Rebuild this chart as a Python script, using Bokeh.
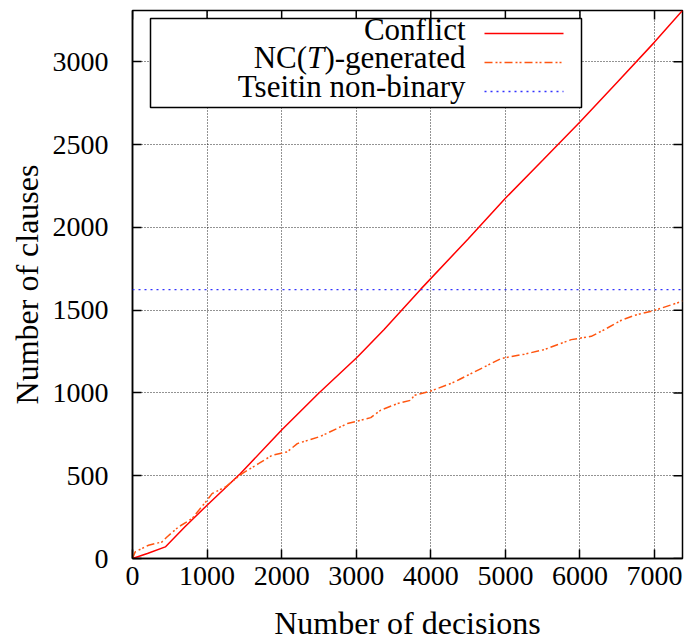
from bokeh.plotting import figure
from bokeh.models import (Range1d, FixedTicker, Span, BoxAnnotation, Label, Arrow)
from bokeh.embed import file_html
from bokeh.resources import INLINE

# ---- data ----
conflict_x = [0, 200, 440, 700, 1000, 1448, 1851, 2000, 2500, 3016, 3374, 3866,
              4500, 5000, 5500, 6000, 6500, 7000, 7375]
conflict_y = [0, 30, 70, 190, 322, 513, 705, 776, 1000, 1217, 1383, 1627,
              1930, 2176, 2405, 2636, 2877, 3119, 3310]

nc_x = [0, 36, 215, 395, 462, 618, 798, 1000, 1067, 1246, 1470, 1694, 1874, 2075,
        2210, 2523, 2882, 3195, 3329, 3554, 3733, 3777, 4001, 4270, 4382, 4942,
        5255, 5524, 5883, 6152, 6331, 6555, 6734, 7003, 7339, 7375]
nc_y = [0, 40, 80, 100, 130, 191, 241, 352, 392, 432, 513, 574, 624, 644,
        694, 738, 815, 851, 896, 936, 956, 986, 1012, 1057, 1081, 1208,
        1234, 1262, 1322, 1342, 1383, 1439, 1469, 1499, 1549, 1556]

tseitin_value = 1624

x_ticks = [0, 1000, 2000, 3000, 4000, 5000, 6000, 7000]
y_ticks = [0, 500, 1000, 1500, 2000, 2500, 3000]

series_names = ["Conflict", "NC(T)-generated", "Tseitin non-binary"]
series_colors = ["#ff0000", "#ff5510", "#3333ff"]
series_dash = ["solid", "8 3 2 2 2 3", "2 4"]
series_width = [1.5, 1.5, 1.2]

FONT = "Liberation Serif"

W, H = 691, 644
BL, BR, BT, BB = 132, 9, 10, 86
x_max = max(conflict_x)
y_max = max(conflict_y)

p = figure(width=W, height=H, output_backend="svg", toolbar_location=None,
           x_range=Range1d(0, x_max), y_range=Range1d(0, y_max),
           min_border_left=BL, min_border_right=BR, min_border_top=BT,
           min_border_bottom=BB)
p.background_fill_color = "white"
p.border_fill_color = "white"
p.outline_line_color = "black"
p.outline_line_width = 1.5

# grid
for g in (p.xgrid, p.ygrid):
    g.grid_line_color = "#000000"
    g.grid_line_alpha = 0.85
    g.grid_line_dash = "1 2"
    g.grid_line_width = 1
p.xgrid.ticker = FixedTicker(ticks=x_ticks)
p.ygrid.ticker = FixedTicker(ticks=y_ticks)

# axes
p.xaxis.ticker = FixedTicker(ticks=x_ticks)
p.yaxis.ticker = FixedTicker(ticks=y_ticks)
p.xaxis.axis_label = "Number of decisions"
p.yaxis.axis_label = "Number of clauses"
for ax in (p.xaxis, p.yaxis):
    ax.major_tick_in = 9
    ax.major_tick_out = 0
    ax.minor_tick_line_color = None
    ax.axis_line_width = 1.5
    ax.major_tick_line_width = 1.5
    ax.major_label_text_font = FONT
    ax.major_label_text_font_size = "28px"
    ax.major_label_text_color = "black"
    ax.axis_label_text_font = FONT
    ax.axis_label_text_font_size = "32px"
    ax.axis_label_text_font_style = "normal"
    ax.axis_label_text_color = "black"
p.yaxis.major_label_standoff = 24
p.xaxis.major_label_standoff = 8
p.yaxis.axis_label_standoff = 5
p.xaxis.axis_label_standoff = 17

# mirrored ticks on top and right borders (gnuplot style)
tick_dx = 9 * x_max / (W - BL - BR)
tick_dy = 9 * y_max / (H - BT - BB)
p.segment(x0=x_ticks, y0=[y_max] * len(x_ticks), x1=x_ticks,
          y1=[y_max - tick_dy] * len(x_ticks), line_color="black", line_width=1.5)
p.segment(x0=[x_max] * len(y_ticks), y0=y_ticks, x1=[x_max - tick_dx] * len(y_ticks),
          y1=y_ticks, line_color="black", line_width=1.5)

# series
p.line(conflict_x, conflict_y, line_color=series_colors[0], line_width=series_width[0],
       line_dash=series_dash[0])
p.line(nc_x, nc_y, line_color=series_colors[1], line_width=series_width[1],
       line_dash=series_dash[1])
p.add_layout(Span(location=tseitin_value, dimension="width",
                  line_color=series_colors[2], line_width=series_width[2],
                  line_dash=series_dash[2]))

# legend (gnuplot style: right aligned text, then sample)
p.add_layout(BoxAnnotation(left=18, right=449, bottom=451, top=540,
                           left_units="screen", right_units="screen",
                           bottom_units="screen", top_units="screen",
                           fill_color="white", fill_alpha=1.0,
                           line_color="black", line_width=1.5, line_alpha=1.0))
row_text_y = [529, 501, 472]
row_line_y = [525, 496, 467]
text_right = 333
for i in range(3):
    p.add_layout(Arrow(end=None, x_start=352, y_start=row_line_y[i], x_end=431,
                       y_end=row_line_y[i], start_units="screen", end_units="screen",
                       line_color=series_colors[i], line_width=1.5,
                       line_dash=series_dash[i]))

def lbl(text, x, y, style="normal", align="right"):
    p.add_layout(Label(x=x, y=y, x_units="screen", y_units="screen", text=text,
                       text_font=FONT, text_font_size="31px", text_font_style=style,
                       text_align=align, text_baseline="alphabetic",
                       text_color="black"))

lbl("Conflict", text_right, row_text_y[0])
# NC(T)-generated with italic T
w_tail = (0.333 + 0.333 + 3.887) * 31
lbl(")-generated", text_right, row_text_y[1])
lbl("T", text_right - w_tail, row_text_y[1], style="italic")
lbl("NC(", text_right - w_tail - 0.556 * 31, row_text_y[1])
lbl("Tseitin non-binary", text_right, row_text_y[2])

open("out.html", "w").write(file_html(p, INLINE))
